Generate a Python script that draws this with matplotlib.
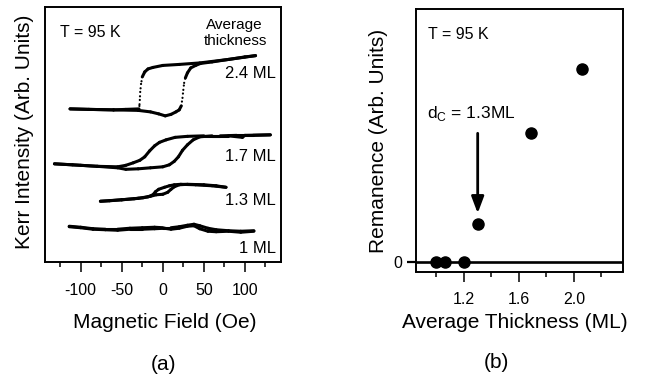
import matplotlib
matplotlib.use("Agg")
import matplotlib.pyplot as plt
import numpy as np

plt.rcParams['font.family'] = ['Liberation Sans', 'DejaVu Sans']

# ---------------- data: panel (a) Kerr loops (field in Oe, intensity arb.) ----------------
h24_up = [-113, -90, -60, -30, -15, -5, 3, 10, 16, 20, 22.5, 24, 25, 26, 27.5, 30, 34, 40, 46, 60, 80, 100, 113]
k24_up = [153, 152.5, 152, 151.5, 150, 148, 146, 147.5, 150, 152, 156, 164, 172, 179, 184, 189, 194, 196.5, 198.5, 200, 202.5, 205, 206.3]
h24_dn = [113, 80, 45, 20, 0, -12, -18, -22, -25, -26.5, -27.5, -28, -28.5, -29, -45, -60, -90, -113]
k24_dn = [206.3, 202.5, 199, 197.5, 196.5, 194.5, 193, 190, 185, 178, 170, 162, 156, 153, 152.5, 152, 152.5, 153]

h17_up = [-132, -110, -80, -55, -45, -30, -15, 0, 8, 14, 19, 24, 30, 37, 45, 60, 80, 97, 100, 131]
k17_up = [98, 97, 95.5, 94, 92.5, 93, 94, 95, 97, 100.5, 105, 111.5, 117, 122, 125, 126, 126, 124.5, 126.5, 127]
h17_dn = [131, 110, 90, 70, 50, 30, 15, 4, -4, -10, -16, -22, -28, -36, -45, -55, -80, -100, -132]
k17_dn = [127, 126.5, 126.5, 126, 126, 125.5, 124.5, 122, 119.5, 116, 111, 105, 101.5, 99, 96.5, 95, 95.5, 96.5, 98]

h13_up = [-76, -65, -50, -35, -24, -15, -8, 0, 6, 10, 14, 20, 30, 50, 65, 77]
k13_up = [60.5, 61, 62, 63, 64, 65.5, 67, 67.5, 69.5, 72.5, 75, 77, 77.5, 77, 76, 74.5]
h13_dn = [77, 60, 40, 22, 14, 8, 2, -5, -9, -12, -18, -30, -50, -76]
k13_dn = [74.5, 76, 77, 77.5, 77, 76, 74.5, 72.5, 70, 67, 65, 63.5, 62, 60.5]

h10_up = [-114, -100, -85, -70, -55, -40, -25, -10, 0, 10, 20, 30, 38, 45, 55, 65, 80, 95, 111]
k10_up = [35.5, 34.5, 33, 32.5, 32.5, 33.5, 34, 34.5, 34, 34, 35, 36.5, 37.5, 36, 33.5, 32, 31, 30.5, 31]
h10_dn = [111, 95, 80, 65, 55, 45, 38, 30, 20, 10, 2, -10, -25, -40, -55, -70, -85, -100, -114]
k10_dn = [30.5, 29.5, 30.5, 30, 30.5, 33, 36, 35.5, 33.5, 32.5, 33.5, 33, 32.5, 32.5, 31.5, 32, 32.5, 34, 35]

thickness_labels = ["2.4 ML", "1.7 ML", "1.3 ML", "1 ML"]
field_ticks = [-100, -50, 0, 50, 100]

# ---------------- data: panel (b) remanence ----------------
thickness = [1.0, 1.06, 1.2, 1.3, 1.69, 2.06]
remanence = [0, 0, 0, 0.38, 1.29, 1.93]
dc_value = 1.3
thick_ticks = [1.2, 1.6, 2.0]

W, H = 645, 386
fig = plt.figure(figsize=(W / 100, H / 100), dpi=100)

def fx(px):
    return px / W

def fy(py):
    return 1 - py / H

# ---------------- panel (a) ----------------
axa = fig.add_axes([fx(45), fy(261.7), fx(281) - fx(45), fy(7.3) - fy(261.7)])
axa.set_xlim(-143.5, 144)
axa.set_ylim(0, 254.7)

def draw_branch(ax, h, k, lw=2.2):
    h = np.asarray(h, float)
    k = np.asarray(k, float)
    for i in range(len(h) - 1):
        dh = abs(h[i + 1] - h[i])
        dk = abs(k[i + 1] - k[i])
        steep = dk > 3 * max(dh, 1e-9)
        if steep:
            ax.plot(h[i:i + 2], k[i:i + 2], color='black', lw=1.6,
                    ls=(0, (0.05, 1.9)), dash_capstyle='round')
        else:
            ax.plot(h[i:i + 2], k[i:i + 2], color='black', lw=lw,
                    solid_capstyle='round')

for hh, kk in [(h24_up, k24_up), (h24_dn, k24_dn), (h17_up, k17_up), (h17_dn, k17_dn),
               (h13_up, k13_up), (h13_dn, k13_dn), (h10_up, k10_up), (h10_dn, k10_dn)]:
    draw_branch(axa, hh, kk)

axa.set_xticks(field_ticks)
axa.set_xticklabels([str(t) for t in field_ticks])
axa.set_xticks([-125, -75, -25, 25, 75, 125], minor=True)
axa.set_yticks([])
axa.tick_params(axis='x', which='major', direction='out', length=7, width=1.1, pad=8, labelsize=11.5)
axa.tick_params(axis='x', which='minor', direction='out', length=3.5, width=1.1)
for s in axa.spines.values():
    s.set_linewidth(1.4)

def atext(ax, xpx, ypx, s, **kw):
    ax.text(xpx / W, 1 - ypx / H, s, transform=fig.transFigure, **kw)

atext(axa, 60, 37.3, "T = 95 K", fontsize=11.5, ha='left', va='baseline')
atext(axa, 234, 29.5, "Average", fontsize=11, ha='center', va='baseline')
atext(axa, 236, 45, "thickness", fontsize=11, ha='center', va='baseline')
for lab, yb in zip(thickness_labels, [78.3, 160.7, 205, 253.3]):
    atext(axa, 276, yb, lab, fontsize=12, ha='right', va='baseline')

fig.text(fx(165), fy(328), "Magnetic Field (Oe)", fontsize=15, ha='center', va='baseline')
fig.text(fx(25), fy(131.7), "Kerr Intensity (Arb. Units)", fontsize=15, rotation=90,
         ha='center', va='center')
fig.text(fx(163), fy(364), "(a)", fontsize=15, ha='center', va='center')

# ---------------- panel (b) ----------------
axb = fig.add_axes([fx(415.7), fy(271.5), fx(622.7) - fx(415.7), fy(9.3) - fy(271.5)])
axb.set_xlim(0.849, 2.355)
axb.set_ylim(-0.092, 2.53)
axb.axhline(0, color='black', lw=1.9, zorder=2)
axb.plot(thickness, remanence, 'o', color='black', markersize=8, zorder=3)
axb.set_xticks(thick_ticks)
axb.set_xticklabels([f"{t:.1f}" for t in thick_ticks])
axb.set_xticks([1.0, 1.4, 1.8, 2.2], minor=True)
axb.set_yticks([0])
axb.set_yticklabels(["0"])
axb.tick_params(axis='x', which='major', direction='out', length=7, width=1.1, pad=8, labelsize=11.5)
axb.tick_params(axis='x', which='minor', direction='out', length=3.5, width=1.1)
axb.tick_params(axis='y', direction='out', length=6.5, width=1.6, pad=3, labelsize=11.5)
for s in axb.spines.values():
    s.set_linewidth(1.4)

axb.annotate('', xy=(dc_value, 0.49), xytext=(dc_value, 1.29),
             arrowprops=dict(arrowstyle='-|>,head_length=0.4,head_width=0.15', lw=2,
                             color='black', mutation_scale=25, shrinkA=0, shrinkB=0))
atext(axb, 428.3, 39.3, "T = 95 K", fontsize=11.5, ha='left', va='baseline')
atext(axb, 426.7, 118.3, r"d$_\mathregular{C}$ = 1.3ML", fontsize=12.5, ha='left', va='baseline')

fig.text(fx(515), fy(328), "Average Thickness (ML)", fontsize=15, ha='center', va='baseline')
fig.text(fx(379), fy(140.8), "Remanence (Arb. Units)", fontsize=15, rotation=90,
         ha='center', va='center')
fig.text(fx(496.7), fy(363), "(b)", fontsize=15, ha='center', va='center')

fig.savefig("out.png", dpi=100)
